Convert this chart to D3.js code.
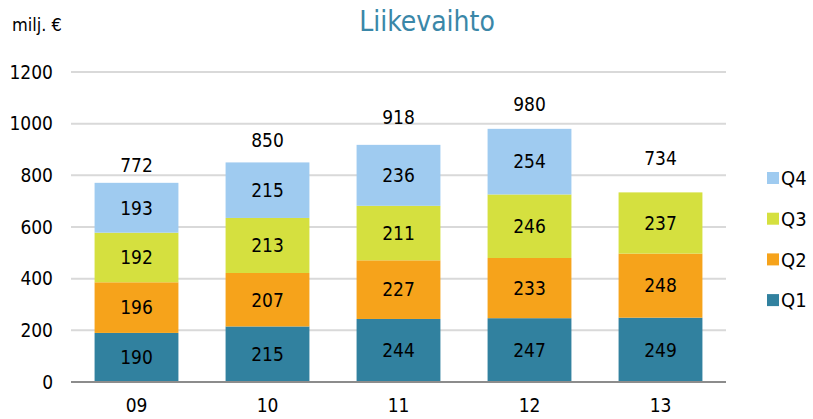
<!DOCTYPE html>
<html>
<head>
<meta charset="utf-8">
<script src="https://cdn.jsdelivr.net/npm/d3@7"></script>
<style>
  body { margin: 0; background: #fff; }
  svg { font-family: "DejaVu Sans Condensed", "DejaVu Sans", sans-serif; }
</style>
</head>
<body>
<svg id="viz" width="813" height="419"></svg>
<script>
// years on the x axis
var years = ["09", "10", "11", "12", "13"];
// quarterly sales, milj. €
var q1 = [190, 215, 244, 247, 249];
var q2 = [196, 207, 227, 233, 248];
var q3 = [192, 213, 211, 246, 237];
var q4 = [193, 215, 236, 254, null];
// totals as printed above the bars
var totals = [772, 850, 918, 980, 734];
var yTicks = [0, 200, 400, 600, 800, 1000, 1200];

var seriesNames = ["Q1", "Q2", "Q3", "Q4"];
var seriesColors = ["#31819f", "#f6a31b", "#d5e03f", "#9fcbf0"];
// the total labels sit at uneven heights in the original (px above bar top)
var totalLabelGap = [18, 22, 28, 25, 34];

var svg = d3.select("svg#viz");
var fs = 19;

var x = d3.scaleBand()
    .domain(years)
    .range([71, 726])
    .paddingInner(0.36)
    .paddingOuter(0.18);

var y = d3.scaleLinear()
    .domain([0, 1200])
    .range([382, 72]);

// build rows for the stack
var rows = years.map(function(yr, i) {
    return { year: yr, Q1: q1[i], Q2: q2[i], Q3: q3[i], Q4: q4[i] || 0, total: totals[i] };
});
var stacked = d3.stack().keys(seriesNames)(rows);

// gridlines
svg.append("g")
    .selectAll("line")
    .data(yTicks.slice(1))
    .enter().append("line")
    .attr("x1", 71)
    .attr("x2", 726)
    .attr("y1", function(d) { return y(d); })
    .attr("y2", function(d) { return y(d); })
    .attr("stroke", "#d9d9d9")
    .attr("stroke-width", 2);

// y axis labels
var yAxis = svg.append("g")
    .attr("transform", "translate(71,0)")
    .call(d3.axisLeft(y).tickValues(yTicks).tickFormat(d3.format("d")).tickSize(0).tickPadding(18));
yAxis.select(".domain").remove();
yAxis.selectAll("text")
    .attr("font-size", fs)
    .attr("fill", "#000")
    .attr("font-family", "DejaVu Sans Condensed");

// bars
var layers = svg.append("g")
    .selectAll("g")
    .data(stacked)
    .enter().append("g")
    .attr("fill", function(d, i) { return seriesColors[i]; });

layers.selectAll("rect")
    .data(function(d) { return d; })
    .enter().append("rect")
    .filter(function(d) { return d[1] > d[0]; })
    .attr("x", function(d) { return x(d.data.year); })
    .attr("width", x.bandwidth())
    .attr("y", function(d) { return y(d[1]); })
    .attr("height", function(d) { return y(d[0]) - y(d[1]); });

// labels inside segments
layers.selectAll("text")
    .data(function(d) { return d; })
    .enter().append("text")
    .filter(function(d) { return d[1] > d[0]; })
    .attr("x", function(d) { return x(d.data.year) + x.bandwidth() / 2; })
    .attr("y", function(d) { return (y(d[0]) + y(d[1])) / 2; })
    .attr("dy", "0.36em")
    .attr("text-anchor", "middle")
    .attr("font-size", fs)
    .attr("fill", "#000")
    .text(function(d) { return d[1] - d[0]; });

// totals above bars
svg.append("g")
    .selectAll("text")
    .data(rows)
    .enter().append("text")
    .attr("x", function(d) { return x(d.year) + x.bandwidth() / 2; })
    .attr("y", function(d, i) { return y(d.Q1 + d.Q2 + d.Q3 + d.Q4) - totalLabelGap[i]; })
    .attr("dy", "0.36em")
    .attr("text-anchor", "middle")
    .attr("font-size", fs)
    .attr("fill", "#000")
    .text(function(d) { return d.total; });

// baseline axis
var xAxis = svg.append("g")
    .attr("transform", "translate(0," + y(0) + ")")
    .call(d3.axisBottom(x).tickSize(0).tickPadding(17));
xAxis.select(".domain")
    .attr("stroke", "#8c8c8c")
    .attr("stroke-width", 2)
    .attr("d", "M71,0H726");
xAxis.selectAll("text")
    .attr("font-size", fs)
    .attr("fill", "#000")
    .attr("font-family", "DejaVu Sans Condensed");

// legend, Q4 on top
var legend = svg.append("g")
    .selectAll("g")
    .data(seriesNames.slice().reverse())
    .enter().append("g")
    .attr("transform", function(d, i) { return "translate(767," + (178 + i * 40.7) + ")"; });
legend.append("rect")
    .attr("x", 0)
    .attr("y", -6)
    .attr("width", 12)
    .attr("height", 12)
    .attr("fill", function(d) { return seriesColors[seriesNames.indexOf(d)]; });
legend.append("text")
    .attr("x", 14)
    .attr("dy", "0.36em")
    .attr("font-size", 20)
    .attr("fill", "#000")
    .text(function(d) { return d; });

// title and unit
svg.append("text")
    .attr("x", 427)
    .attr("y", 31)
    .attr("text-anchor", "middle")
    .attr("font-size", 28)
    .attr("fill", "#3a87a8")
    .text("Liikevaihto");

svg.append("text")
    .attr("x", 12)
    .attr("y", 31)
    .attr("font-size", 18)
    .attr("fill", "#000")
    .text("milj. €");
</script>
</body>
</html>
